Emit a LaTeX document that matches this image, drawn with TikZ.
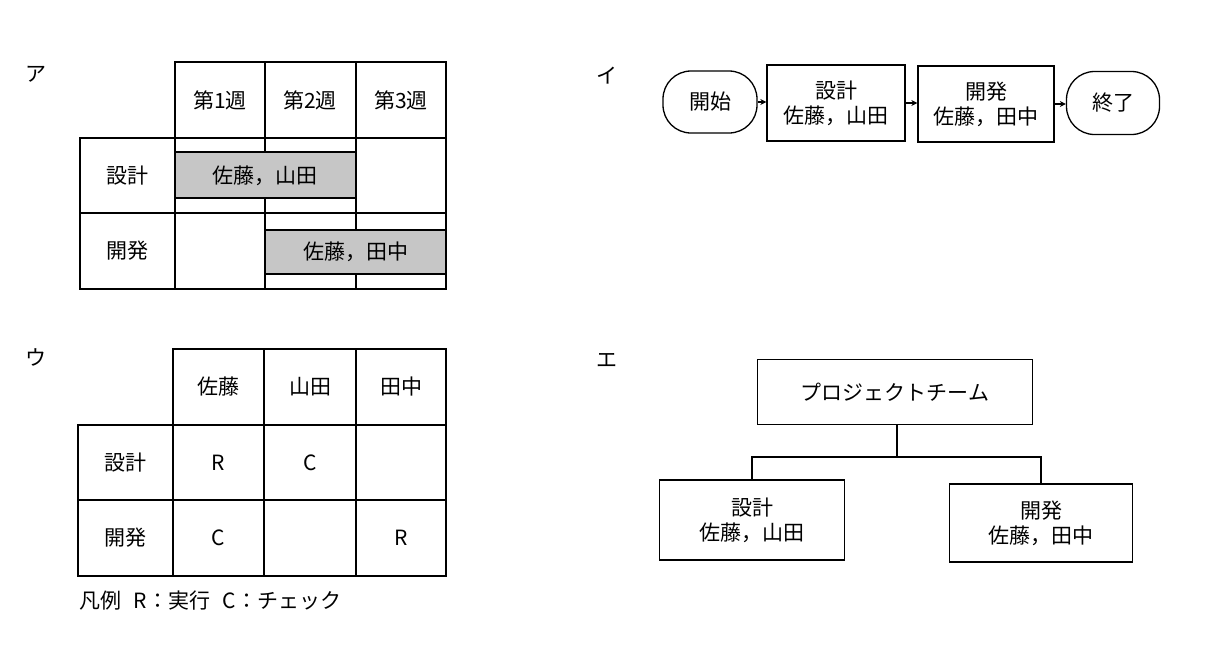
\documentclass[tikz,border=0pt]{standalone}
\usepackage{fontspec}
\setmainfont{Noto Sans CJK JP}
\usetikzlibrary{arrows.meta}
\begin{document}
\begin{tikzpicture}[x=1pt,y=-1pt,
  ln/.style={draw=black,line width=1.3pt},
  t/.style={font=\fontsize{21}{25}\selectfont,inner sep=0pt,align=center},
  box/.style={draw=black,line width=1.3pt,align=center,font=\fontsize{21}{25}\selectfont,inner sep=0pt},
  arr/.style={draw=black,line width=1.2pt,-{Stealth[length=6pt,width=6pt]}}]
\useasboundingbox (0,0) rectangle (1216,654);
\fill[white] (0,0) rectangle (1216,654);
% labels
\node[t] (la) at (36,74) {ア};
\node[t] (li) at (607,76) {イ};
\node[t] (lu) at (36,357) {ウ};
\node[t] (le) at (607,360) {エ};
% ===== ア =====
\fill[gray!45] (175,152) rectangle (356,198);
\fill[gray!45] (265,230) rectangle (446,274);
\draw[ln] (175,62) rectangle (446,138);
\draw[ln] (265,62) -- (265,138) (356,62) -- (356,138);
\draw[ln] (80,138) rectangle (446,289);
\draw[ln] (80,213) -- (446,213);
\draw[ln] (175,138) -- (175,289);
\draw[ln] (356,138) -- (356,213);
\draw[ln] (265,138) -- (265,152) (265,198) -- (265,289);
\draw[ln] (175,152) -- (356,152) (175,198) -- (356,198);
\draw[ln] (265,230) -- (446,230) (265,274) -- (446,274);
\draw[ln] (356,213) -- (356,230) (356,274) -- (356,289);
\node[t] (w1) at (220,100) {第1週};
\node[t] (w2) at (310,100) {第2週};
\node[t] (w3) at (401,100) {第3週};
\node[t] (r1) at (127,176) {設計};
\node[t] (r2) at (127,251) {開発};
\node[t] (b1) at (265,176) {佐藤，山田};
\node[t] (b2) at (356,252) {佐藤，田中};
% ===== ウ =====
\draw[ln] (173,349) rectangle (446,425);
\draw[ln] (264,349) -- (264,576) (356,349) -- (356,576);
\draw[ln] (78,425) rectangle (446,576);
\draw[ln] (78,500) -- (446,500);
\draw[ln] (173,425) -- (173,576);
\node[t] (p1) at (218,387) {佐藤};
\node[t] (p2) at (310,387) {山田};
\node[t] (p3) at (401,387) {田中};
\node[t] (q1) at (125,463) {設計};
\node[t] (q2) at (125,538) {開発};
\node[t] (c11) at (218,463) {R};
\node[t] (c12) at (310,463) {C};
\node[t] (c21) at (218,538) {C};
\node[t] (c23) at (401,538) {R};
\node[t,anchor=west] (leg) at (79,601) {凡例\hspace{0.6em}R：実行\hspace{0.6em}C：チェック};
% ===== イ =====
\node[box,rounded corners=28pt,minimum width=94pt,minimum height=62pt] (st) at (710,102) {開始};
\node[box,minimum width=138pt,minimum height=76pt] (s1) at (836,103) {設計\\佐藤，山田};
\node[box,minimum width=136pt,minimum height=76pt] (s2) at (986,104) {開発\\佐藤，田中};
\node[box,rounded corners=28pt,minimum width=93pt,minimum height=63pt] (en) at (1113,103) {終了};
\draw[arr] (st.east) -- (s1.west |- st.east);
\draw[arr] (s1.east) -- (s2.west |- s1.east);
\draw[arr] (s2.east) -- (en.west |- s2.east);
% ===== エ =====
\node[box,minimum width=275pt,minimum height=65pt] (pt) at (895,392) {プロジェクトチーム};
\node[box,minimum width=185pt,minimum height=80pt] (d1) at (752,520) {設計\\佐藤，山田};
\node[box,minimum width=183pt,minimum height=78pt] (d2) at (1041,523) {開発\\佐藤，田中};
\coordinate (j) at (897,457);
\draw[ln] (pt.south -| j) -- (j);
\draw[ln] (d1.north) |- (j) -| (d2.north);
\end{tikzpicture}
\end{document}
